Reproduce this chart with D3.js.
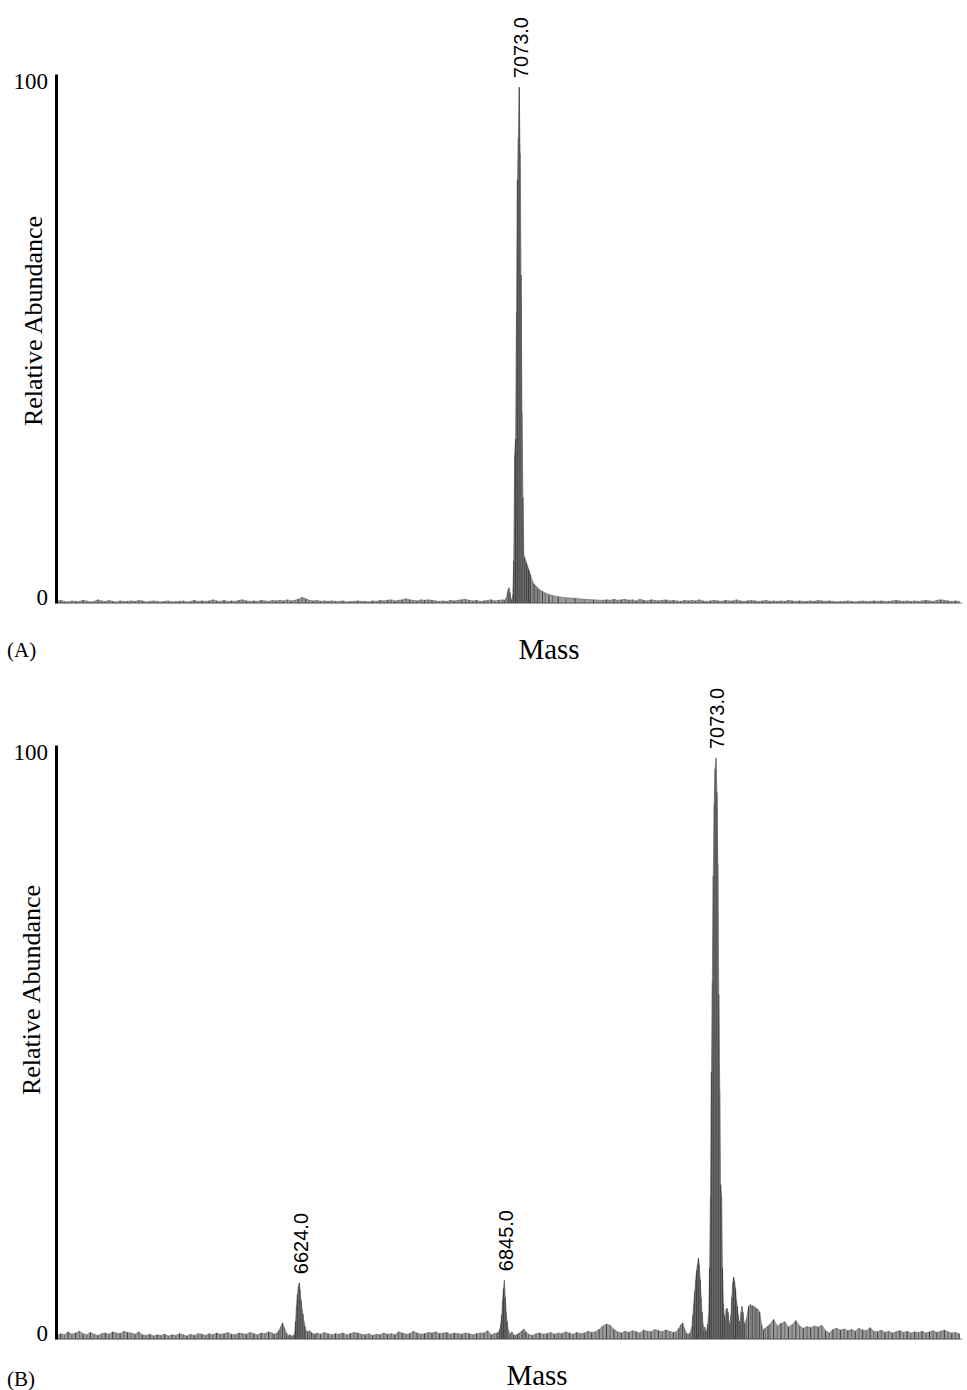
<!DOCTYPE html>
<html>
<head>
<meta charset="utf-8">
<script src="https://cdn.jsdelivr.net/npm/d3@7"></script>
<style>
  html, body { margin: 0; padding: 0; background: #fff; }
  svg { display: block; }
  .serif { font-family: "Liberation Serif", "Times New Roman", serif; fill: #000; }
  .sans { font-family: "Liberation Sans", Arial, sans-serif; fill: #000; }
</style>
</head>
<body>
<svg id="chart" width="967" height="1390"></svg>
<script>
// ---------- Panel A: baseline noise on a 4 Da grid (null = covered by the peak profile) ----------
const gridStartA = 6575, gridStepA = 4;
const noiseA = [
  0.3,0.5,0.3,0.2,0.4,0.3,0.3,0.5,0.4,0.2,0.3,0.6,0.4,0.3,0.5,0.3,0.2,0.4,0.3,0.3,
  0.4,0.3,0.5,0.4,0.2,0.3,0.4,0.3,0.2,0.3,0.4,0.2,0.3,0.3,0.4,0.2,0.3,0.5,0.3,0.4,
  0.3,0.4,0.6,0.4,0.3,0.5,0.3,0.4,0.3,0.5,0.6,0.4,0.3,0.4,0.3,0.5,0.4,0.3,0.5,0.4,
  0.5,0.4,0.6,0.4,0.5,0.7,1.1,0.8,0.5,0.4,0.5,0.3,0.4,0.3,0.4,0.3,0.3,0.4,0.2,0.3,
  0.3,0.4,0.3,0.3,0.2,0.4,0.3,0.5,0.4,0.5,0.6,0.4,0.5,0.6,0.8,0.6,0.5,0.4,0.6,0.5,
  0.6,0.5,0.4,0.3,0.4,0.3,0.5,0.4,0.5,0.6,0.7,0.5,0.4,0.5,0.3,0.4,0.5,0.6,0.4,0.5,
  0.6,
  null,null,null,null,null,null,null,null,null,null,null,null,null,null,null,null,null,null,null,null,null,null,null,null,null,null,null,
  0.6,0.5,0.7,0.5,0.6,0.7,0.5,0.6,0.4,0.7,0.5,0.4,0.6,0.5,0.4,0.5,0.6,0.4,0.5,0.4,
  0.3,0.5,0.4,0.5,0.4,0.6,0.4,0.3,0.4,0.5,0.4,0.3,0.5,0.4,0.4,0.6,0.4,0.3,0.4,0.5,
  0.4,0.3,0.4,0.5,0.3,0.4,0.3,0.4,0.3,0.5,0.4,0.3,0.4,0.3,0.3,0.4,0.3,0.5,0.4,0.3,
  0.4,0.3,0.2,0.3,0.3,0.4,0.3,0.2,0.3,0.4,0.3,0.3,0.4,0.3,0.4,0.3,0.3,0.4,0.5,0.4,
  0.3,0.4,0.3,0.4,0.3,0.4,0.5,0.4,0.3,0.5,0.6,0.5,0.4,0.3,0.4,0.3
];

// Panel A: profile around the 7073 Da peak [mass, relative abundance %]
const peakProfileA = [
  [7057,0.5],[7059,1.0],[7061,2.5],[7062,2.9],[7063,2.0],[7064,0.8],[7065,0.6],[7066,1.5],
  [7067,8],[7068,28],[7069,31],[7070,55],[7071,80],[7072,88],[7073,97.5],[7074,85],
  [7075,62],[7076,36],[7077,20],[7078,9],[7079,8.5],[7080,8],[7081,7.5],[7082,7],
  [7083,6.4],[7084,6],[7085,5.4],[7087,4.2],[7089,3.6],[7091,3.2],[7093,2.8],[7095,2.5],
  [7098,2.2],[7101,1.9],[7105,1.6],[7109,1.4],[7115,1.2],[7123,1.0],[7133,0.9],[7143,0.7],
  [7153,0.6],[7163,0.5]
];
const labelsA = [7073.0];

// ---------- Panel B ----------
const gridStartB = 6363, gridStepB = 4;
const noiseB = [
  0.6,0.9,0.7,1.2,0.8,1.0,1.3,0.9,0.7,1.1,0.8,0.6,0.9,1.0,0.8,1.2,1.0,0.9,1.3,1.1,
  1.0,0.8,1.2,0.7,0.6,0.8,0.5,0.7,0.6,0.8,0.5,0.7,0.6,0.9,0.7,0.5,0.8,0.6,0.9,0.8,
  0.6,0.9,0.7,1.0,0.8,0.9,1.1,0.8,0.7,1.0,0.9,0.8,1.1,0.9,0.7,1.0,0.9,1.2,1.0,
  null,null,null,null,null,null,null,null,null,null,null,
  1.0,0.8,1.1,0.9,0.7,0.9,0.8,1.0,0.7,0.9,1.1,1.0,0.8,0.7,0.9,0.6,0.8,0.7,1.0,0.8,
  0.9,0.7,1.2,1.0,0.8,0.9,1.3,1.0,0.8,0.9,1.1,1.0,1.2,0.9,1.0,1.1,0.8,1.0,0.9,0.8,
  1.0,0.9,0.7,0.9,1.0,1.0,1.4,
  null,null,null,null,null,null,null,null,null,null,null,null,
  0.9,1.0,0.8,0.9,1.1,0.8,1.0,0.9,1.2,1.0,0.8,1.1,0.9,1.0,1.3,1.1,1.2,1.6,2.2,2.5,
  2.3,1.6,1.2,1.0,1.3,1.1,1.4,1.2,1.0,1.5,1.3,1.2,1.6,1.4,1.2,1.5,1.3,1.1,
  null,null,null,null,null,null,null,null,null,null,null,null,null,null,null,null,null,null,null,null,null,null,null,null,null,
  2.5,3.3,2.2,2.6,2.9,2.0,2.4,3.1,2.2,1.8,2.1,1.9,2.2,2.0,2.3,1.4,1.0,1.6,1.8,1.5,
  1.7,1.4,1.6,1.3,1.8,1.5,1.4,1.9,1.3,1.2,1.5,1.1,1.3,1.0,1.2,1.4,1.1,1.3,1.0,1.2,
  1.1,1.3,1.0,1.2,1.4,1.1,1.3,1.5,1.2,1.0,1.1,0.9
];

// Panel B: profiles around the three labelled peaks [mass, relative abundance %]
const peakProfileB1 = [
  [6597,0.8],[6600,1.0],[6602,1.4],[6604,2.1],[6606,2.7],[6608,1.9],[6610,1.0],[6612,0.6],
  [6614,0.7],[6616,0.5],[6618,0.6],[6619,1.0],[6620,3.0],[6621,5.5],[6622,7.5],[6623,8.8],
  [6624,9.4],[6625,8.2],[6626,6.5],[6627,5.0],[6628,4.2],[6629,3.0],[6630,2.2],[6631,1.5],
  [6633,1.2],[6635,1.4],[6637,1.1],[6639,0.9],[6641,0.8]
];
const peakProfileB2 = [
  [6831,0.7],[6834,0.9],[6837,1.0],[6839,1.2],[6840,1.6],[6841,2.5],[6842,4.0],[6843,6.5],
  [6844,8.5],[6845,9.9],[6846,7.0],[6847,4.5],[6848,3.0],[6849,1.6],[6851,0.8],[6853,1.2],
  [6855,0.7],[6857,0.6],[6859,0.8],[6861,1.0],[6864,1.4],[6866,1.7],[6868,1.2],[6871,0.8],
  [6875,0.6]
];
const peakProfileB3 = [
  [7030,1.2],[7033,1.8],[7035,2.4],[7037,2.7],[7039,1.8],[7041,1.0],[7043,0.8],[7045,1.0],
  [7047,2.0],[7048,4],[7049,6],[7050,8],[7051,10],[7052,11.5],[7053,12.5],[7054,13.6],
  [7055,12.5],[7056,10],[7057,7],[7058,4.5],[7059,2.5],[7060,1.5],[7061,2.0],[7062,1.2],
  [7063,1.5],[7064,2.5],[7065,4],[7066,12],[7067,24],[7068,45],[7069,60],[7070,78],
  [7071,90],[7072,96],[7073,97.8],[7074,92],[7075,80],[7076,58],[7077,42],[7078,26],
  [7079,24],[7080,12],[7081,6],[7082,4],[7083,3],[7084,5],[7085,5.2],[7086,4.5],
  [7087,3],[7088,2.5],[7089,4],[7090,7],[7091,9.5],[7092,10.4],[7093,9.8],[7094,8.5],
  [7095,6.5],[7096,5.5],[7097,4],[7098,3],[7099,2.5],[7100,4.5],[7101,5.5],[7102,4.5],
  [7103,3],[7104,2.5],[7106,3.5],[7108,5.5],[7110,5.8],[7112,5.6],[7114,5.5],[7116,5.2],
  [7118,5.0],[7120,4.5],[7122,2.5],[7124,1.5],[7126,1.8],[7129,2.2]
];
const labelsB = [6624.0, 6845.0, 7073.0];

const yTicks = [0, 100];

// ---------- drawing ----------
const svg = d3.select("#chart");

function buildSeries(gridStart, gridStep, noise, profiles) {
  const pts = [];
  noise.forEach((v, i) => { if (v !== null) pts.push([gridStart + i * gridStep, v]); });
  profiles.forEach(p => p.forEach(d => pts.push(d)));
  return pts.sort((a, b) => a[0] - b[0]);
}

function drawPanel(cfg) {
  const x = d3.scaleLinear().domain(cfg.massDomain).range([57, 962]);
  const y = d3.scaleLinear().domain([0, 100]).range([cfg.base, cfg.top]);
  const series = buildSeries(cfg.gridStart, cfg.gridStep, cfg.noise, cfg.profiles);
  const g = svg.append("g");

  // filled profile
  g.append("path")
    .datum(series)
    .attr("d", d3.area().x(d => x(d[0])).y0(y(0)).y1(d => y(d[1])))
    .attr("fill", "#9a9a9a")
    .attr("stroke", "#6e6e6e")
    .attr("stroke-width", 0.6);

  // vertical hatching at every data point
  g.append("g").selectAll("line")
    .data(series)
    .join("line")
    .attr("x1", d => x(d[0])).attr("x2", d => x(d[0]))
    .attr("y1", y(0)).attr("y2", d => y(d[1]))
    .attr("stroke", (d, i) => i % 2 ? "#2a2a2a" : "#5c5c5c")
    .attr("stroke-width", 0.8);

  // baseline
  g.append("line")
    .attr("x1", 57).attr("x2", 962)
    .attr("y1", y(0)).attr("y2", y(0))
    .attr("stroke", "#555").attr("stroke-width", 0.8);

  // y axis
  const axis = g.append("g")
    .attr("transform", "translate(56,0)")
    .call(d3.axisLeft(y).tickValues(yTicks).tickSize(0).tickPadding(8).tickFormat(d3.format("d")));
  axis.select(".domain").attr("stroke", "#000").attr("stroke-width", 3);
  axis.selectAll("text")
    .attr("class", "serif")
    .attr("font-size", 23)
    .attr("font-family", "'Liberation Serif', 'Times New Roman', serif")
    .attr("dy", d => d === 100 ? "0.62em" : "0.05em");

  // peak labels
  cfg.labels.forEach(m => {
    const near = series.filter(d => Math.abs(d[0] - m) <= 1);
    const top = d3.max(near, d => d[1]);
    g.append("text")
      .attr("class", "sans")
      .attr("font-size", 20)
      .attr("transform", `translate(${x(m)},${y(top) - 9}) rotate(-90)`)
      .attr("dy", "0.42em")
      .text(m.toFixed(1));
  });

  // axis titles
  g.append("text")
    .attr("class", "serif")
    .attr("font-size", 26)
    .attr("text-anchor", "middle")
    .attr("transform", `translate(${cfg.yTitle[0]},${cfg.yTitle[1]}) rotate(-90)`)
    .text("Relative Abundance");

  g.append("text")
    .attr("class", "serif")
    .attr("font-size", 29)
    .attr("text-anchor", "middle")
    .attr("x", cfg.xTitle[0]).attr("y", cfg.xTitle[1])
    .text("Mass");

  g.append("text")
    .attr("class", "serif")
    .attr("font-size", 21)
    .attr("x", 7).attr("y", cfg.tag[1])
    .text(cfg.tag[0]);
}

drawPanel({
  massDomain: [6575, 7550], base: 603, top: 74,
  gridStart: gridStartA, gridStep: gridStepA, noise: noiseA, profiles: [peakProfileA],
  labels: labelsA, yTitle: [42, 321], xTitle: [549, 659], tag: ["(A)", 657]
});

drawPanel({
  massDomain: [6363, 7338], base: 1339, top: 745,
  gridStart: gridStartB, gridStep: gridStepB, noise: noiseB,
  profiles: [peakProfileB1, peakProfileB2, peakProfileB3],
  labels: labelsB, yTitle: [40, 990], xTitle: [537, 1385], tag: ["(B)", 1386]
});
</script>
</body>
</html>
